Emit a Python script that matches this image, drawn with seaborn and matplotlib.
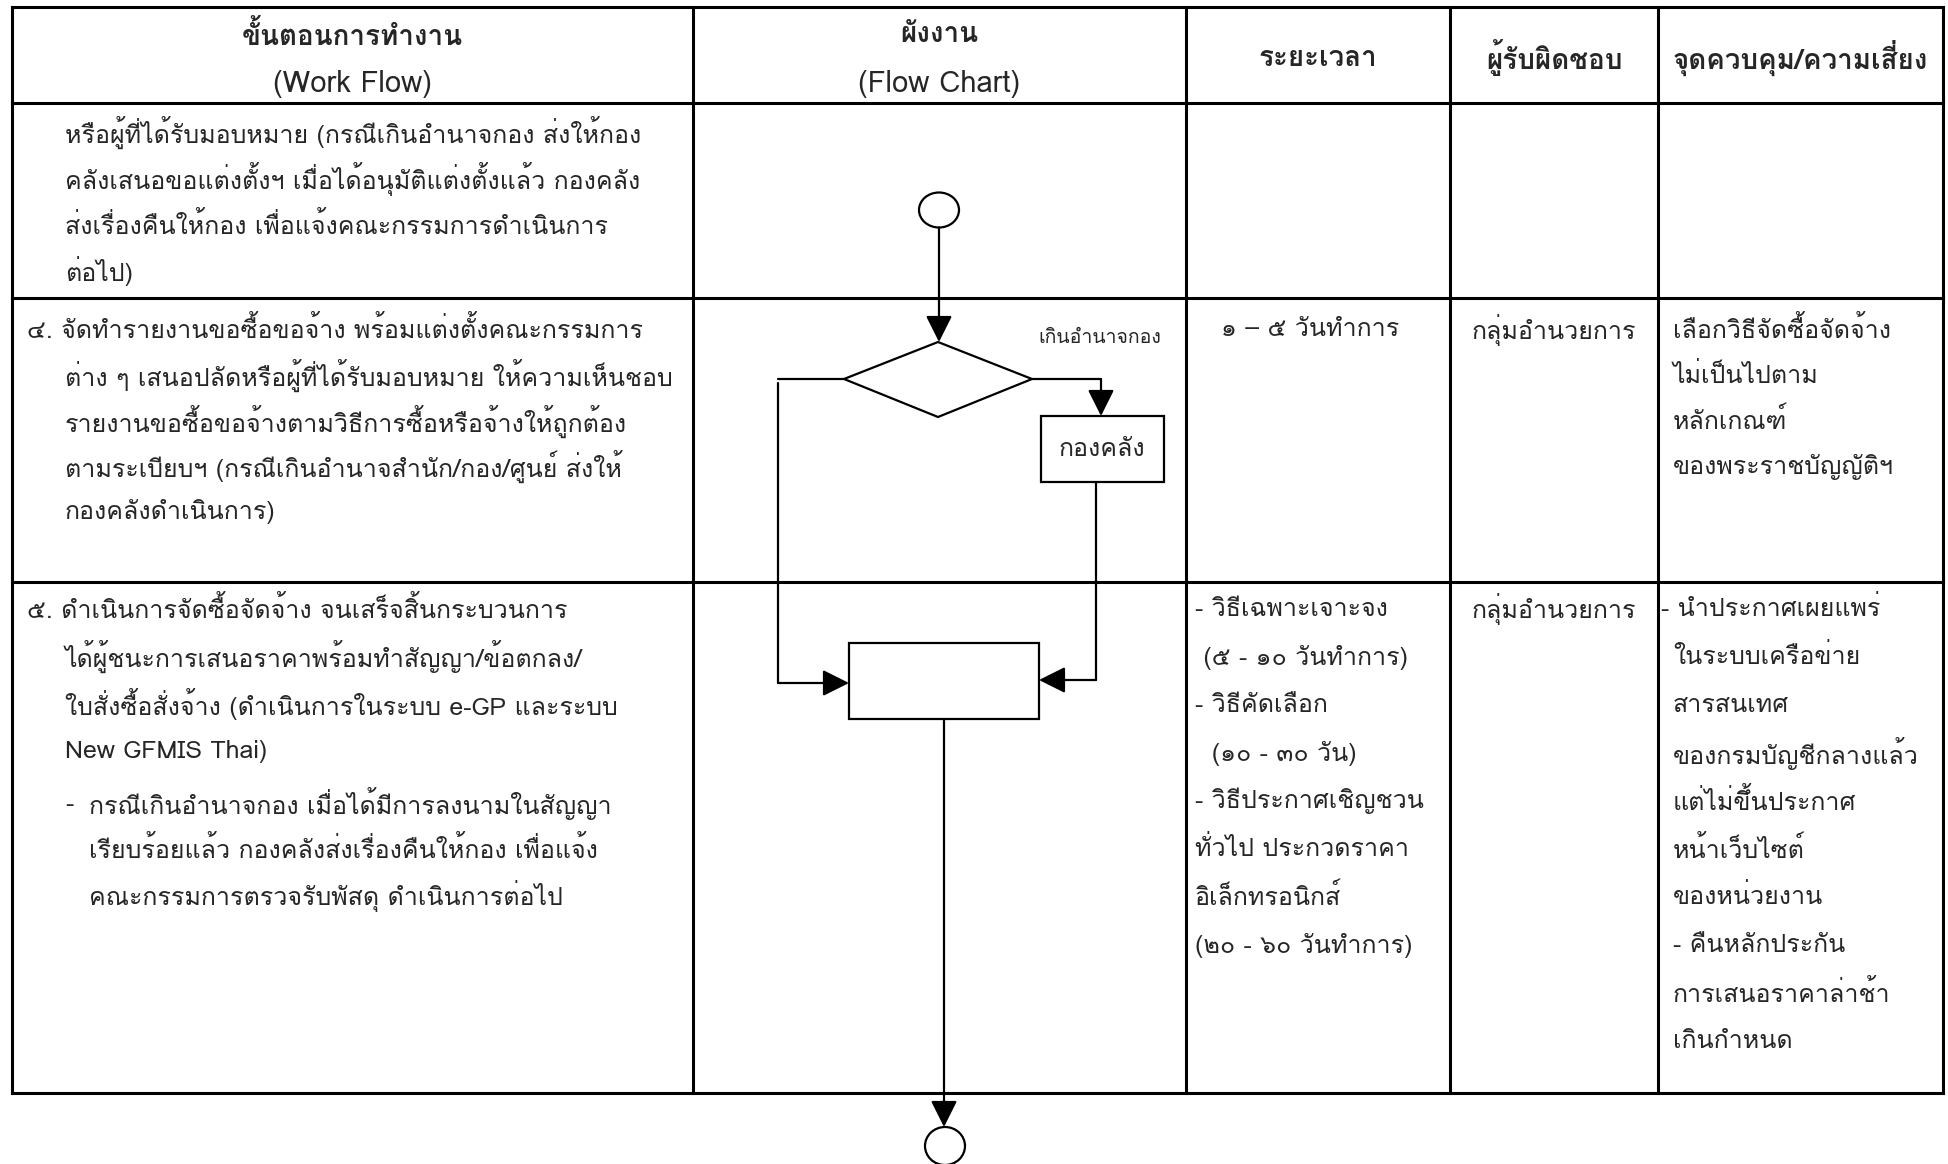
import matplotlib
matplotlib.use("Agg")
import matplotlib.pyplot as plt
import seaborn as sns
from matplotlib import font_manager
from matplotlib.ft2font import FT2Font
from matplotlib.patches import Rectangle, Ellipse, Polygon

# ---- table content ----
header_labels = [
    ["ขั้นตอนการทำงาน", "(Work Flow)"],
    ["ผังงาน", "(Flow Chart)"],
    ["ระยะเวลา"],
    ["ผู้รับผิดชอบ"],
    ["จุดควบคุม/ความเสี่ยง"],
]

row1_work = [
    "หรือผู้ที่ได้รับมอบหมาย (กรณีเกินอำนาจกอง ส่งให้กอง",
    "คลังเสนอขอแต่งตั้งฯ เมื่อได้อนุมัติแต่งตั้งแล้ว กองคลัง",
    "ส่งเรื่องคืนให้กอง เพื่อแจ้งคณะกรรมการดำเนินการ",
    "ต่อไป)",
]

row2_work = [
    "๔. จัดทำรายงานขอซื้อขอจ้าง พร้อมแต่งตั้งคณะกรรมการ",
    "ต่าง ๆ เสนอปลัดหรือผู้ที่ได้รับมอบหมาย ให้ความเห็นชอบ",
    "รายงานขอซื้อขอจ้างตามวิธีการซื้อหรือจ้างให้ถูกต้อง",
    "ตามระเบียบฯ (กรณีเกินอำนาจสำนัก/กอง/ศูนย์ ส่งให้",
    "กองคลังดำเนินการ)",
]
row2_time = ["๑ – ๕ วันทำการ"]
row2_owner = ["กลุ่มอำนวยการ"]
row2_risk = [
    "เลือกวิธีจัดซื้อจัดจ้าง",
    "ไม่เป็นไปตาม",
    "หลักเกณฑ์",
    "ของพระราชบัญญัติฯ",
]

row3_work = [
    "๕. ดำเนินการจัดซื้อจัดจ้าง จนเสร็จสิ้นกระบวนการ",
    "ได้ผู้ชนะการเสนอราคาพร้อมทำสัญญา/ข้อตกลง/",
    "ใบสั่งซื้อสั่งจ้าง (ดำเนินการในระบบ e-GP และระบบ",
    "New GFMIS Thai)",
    "กรณีเกินอำนาจกอง เมื่อได้มีการลงนามในสัญญา",
    "เรียบร้อยแล้ว กองคลังส่งเรื่องคืนให้กอง เพื่อแจ้ง",
    "คณะกรรมการตรวจรับพัสดุ ดำเนินการต่อไป",
]
row3_time = [
    "- วิธีเฉพาะเจาะจง",
    " (๕ - ๑๐ วันทำการ)",
    "- วิธีคัดเลือก",
    "  (๑๐ - ๓๐ วัน)",
    "- วิธีประกาศเชิญชวน",
    "ทั่วไป ประกวดราคา",
    "อิเล็กทรอนิกส์",
    "(๒๐ - ๖๐ วันทำการ)",
]
row3_owner = ["กลุ่มอำนวยการ"]
row3_risk = [
    "- นำประกาศเผยแพร่",
    "ในระบบเครือข่าย",
    "สารสนเทศ",
    "ของกรมบัญชีกลางแล้ว",
    "แต่ไม่ขึ้นประกาศ",
    "หน้าเว็บไซต์",
    "ของหน่วยงาน",
    "- คืนหลักประกัน",
    "การเสนอราคาล่าช้า",
    "เกินกำหนด",
]

branch_label = "เกินอำนาจกอง"
finance_box_label = "กองคลัง"

# ---- layout (pixels) ----
W, H = 1948, 1164
col_edges = [12, 693, 1186, 1450, 1658, 1943]
row_edges = [7, 103, 298, 582, 1093]


def find_thai_font():
    for f in font_manager.fontManager.ttflist:
        try:
            if 0x0E01 in FT2Font(f.fname).get_charmap():
                return f.name
        except Exception:
            continue
    return None


sns.set_theme(style="white")
thai = find_thai_font()
families = [thai, "DejaVu Sans"] if thai else ["DejaVu Sans"]
plt.rcParams["font.family"] = families

fig = plt.figure(figsize=(W / 100, H / 100), dpi=100)
ax = fig.add_axes([0, 0, 1, 1])
ax.set_xlim(0, W)
ax.set_ylim(H, 0)
ax.axis("off")

FS = 18
FS_HEAD = 20
LW_TABLE = 2.2
LW_FLOW = 1.6

# table grid
for y in row_edges:
    ax.plot([col_edges[0], col_edges[-1]], [y, y], color="black", lw=LW_TABLE, solid_capstyle="projecting")
for x in col_edges:
    ax.plot([x, x], [row_edges[0], row_edges[-1]], color="black", lw=LW_TABLE, solid_capstyle="projecting")

# header
for i, lines in enumerate(header_labels):
    cx = (col_edges[i] + col_edges[i + 1]) / 2
    if len(lines) == 2:
        ax.text(cx, 35, lines[0], ha="center", va="center", fontsize=FS_HEAD, fontweight="bold")
        ax.text(cx, 84, lines[1], ha="center", va="center", fontsize=FS_HEAD + 1)
    else:
        ax.text(cx, 58, lines[0], ha="center", va="center", fontsize=FS_HEAD, fontweight="bold")


def put_lines(lines, x, y0, step, ha="left"):
    for k, t in enumerate(lines):
        ax.text(x, y0 + k * step, t, ha=ha, va="center", fontsize=FS)


# row 1
put_lines(row1_work, 65, 132, 46.5)

# row 2
put_lines(row2_work[:1], 27, 330, 45.5)
put_lines(row2_work[1:], 65, 375.5, 45.5)
put_lines(row2_time, (col_edges[2] + col_edges[3]) / 2 - 8, 330, 45.5, ha="center")
put_lines(row2_owner, (col_edges[3] + col_edges[4]) / 2, 330, 45.5, ha="center")
put_lines(row2_risk, 1673, 330, 45.5)

# row 3
put_lines(row3_work[:1], 27, 609, 47.5)
put_lines(row3_work[1:4], 65, 656.5, 47.5)
ax.text(65, 609 + 4 * 47.5 + 5, "-", ha="left", va="center", fontsize=FS)
put_lines(row3_work[4:], 89, 609 + 4 * 47.5 + 5, 46)
put_lines(row3_time, 1195, 609, 48)
put_lines(row3_owner, (col_edges[3] + col_edges[4]) / 2, 609, 48, ha="center")
put_lines(row3_risk[:1], 1661, 609, 48)
put_lines(row3_risk[1:], 1673, 657, 48)

# ---- flow chart ----
def arrow(x0, y0, x1, y1):
    ax.annotate("", xy=(x1, y1), xytext=(x0, y0),
                arrowprops=dict(arrowstyle="-|>,head_length=0.9,head_width=0.45",
                                color="black", lw=LW_FLOW, shrinkA=0, shrinkB=0,
                                mutation_scale=18))


def line(xs, ys):
    ax.plot(xs, ys, color="black", lw=LW_FLOW, solid_joinstyle="miter")


# start connector
ax.add_patch(Ellipse((939, 210), 40, 35, fill=False, ec="black", lw=LW_FLOW))
arrow(939, 227.5, 939, 342)

# decision diamond
ax.add_patch(Polygon([(938, 342), (1032, 379), (938, 417), (844, 379)],
                     closed=True, fill=False, ec="black", lw=LW_FLOW))
ax.text(1100, 338, branch_label, ha="center", va="center", fontsize=14)

# right branch -> finance box
line([1032, 1101], [379, 379])
arrow(1101, 379, 1101, 416)
ax.add_patch(Rectangle((1041, 416), 123, 66, fill=False, ec="black", lw=LW_FLOW))
ax.text(1102, 449, finance_box_label, ha="center", va="center", fontsize=FS)
line([1096, 1096], [482, 680])
arrow(1096, 680, 1039, 680)

# left branch
line([844, 778], [379, 379])
line([778, 778], [383, 683])
arrow(778, 683, 849, 683)

# process box
ax.add_patch(Rectangle((849, 643), 190, 76, fill=False, ec="black", lw=LW_FLOW))

# down to end connector
arrow(944, 719, 944, 1127)
ax.add_patch(Ellipse((945, 1146), 40, 38, fill=False, ec="black", lw=LW_FLOW, clip_on=False))

fig.savefig("out.png", dpi=100, facecolor="white")
